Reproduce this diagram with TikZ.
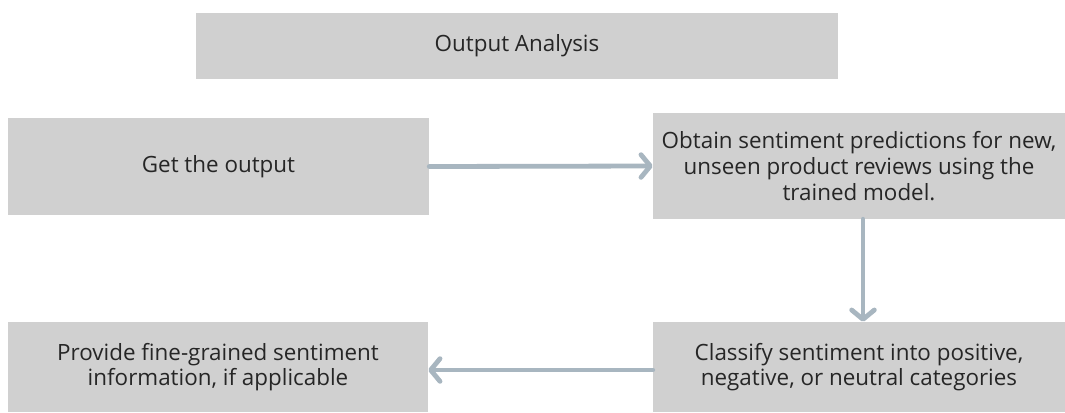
\documentclass[tikz,border=0pt]{standalone}
\usepackage{fontspec}
\setmainfont{Open Sans}
\usetikzlibrary{arrows.meta}
\definecolor{boxgray}{HTML}{D0D0D0}
\definecolor{arrowgray}{HTML}{A8B6C0}
\begin{document}
\begin{tikzpicture}[x=0.75pt,y=-0.75pt,
  box/.style={fill=boxgray, draw=none, align=center, inner sep=0pt,
    font=\fontsize{16.8}{19.2}\selectfont, text=black!85},
  arr/.style={draw=arrowgray, line width=3.6pt, line cap=round,
    -{Straight Barb[length=7pt,width=17pt,round]}}]
\useasboundingbox (0,0) rectangle (1065,412);
\fill[white] (0,0) rectangle (1065,412);
\node[box, minimum width=481.5pt, minimum height=49.5pt] (title) at (517,46) {Output Analysis};
\node[box, minimum width=315.75pt, minimum height=72.75pt] (get) at (218.5,166.5) {Get the output};
\node[box, minimum width=309pt, minimum height=79.5pt] (obtain) at (859,166) {Obtain sentiment predictions for new,\\unseen product reviews using the\\trained model.};
\node[box, minimum width=309pt, minimum height=67.5pt] (classify) at (859,367) {Classify sentiment into positive,\\negative, or neutral categories};
\node[box, minimum width=315pt, minimum height=67.5pt] (provide) at (218,367) {Provide fine-grained sentiment\\information, if applicable};
\draw[arr] (get.east) -- (obtain.west);
\draw[arr] ([xshift=3pt]obtain.south) -- ([xshift=3pt]classify.north);
\draw[arr] ([yshift=-2.25pt]classify.west) -- ([yshift=-2.25pt]provide.east);
\end{tikzpicture}
\end{document}
